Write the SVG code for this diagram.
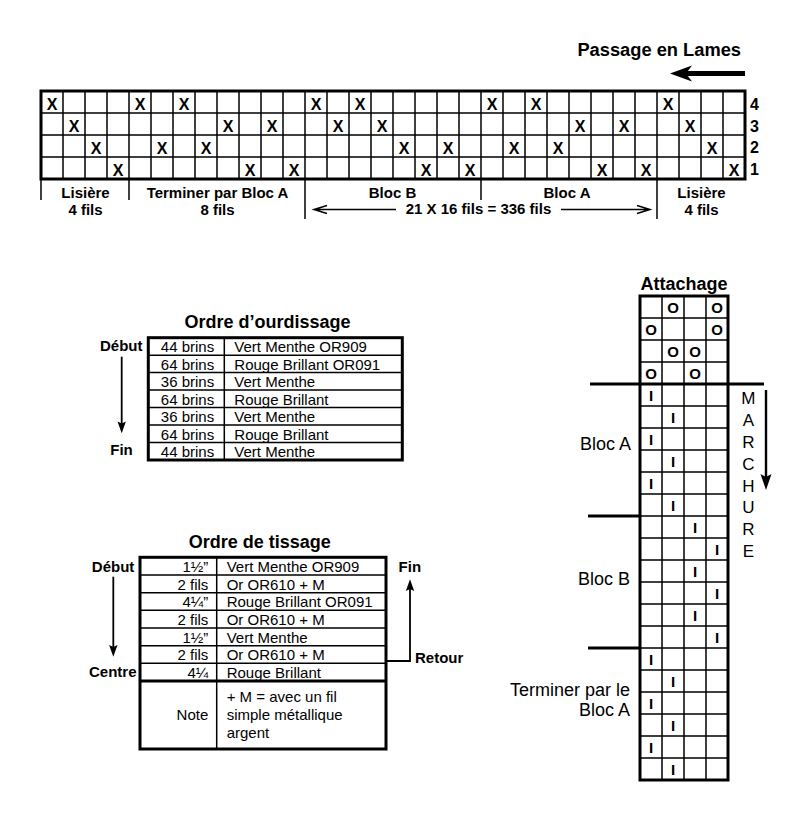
<svg xmlns="http://www.w3.org/2000/svg" width="800" height="822" viewBox="0 0 800 822">
<defs>
<style>
.t{font-family:"Liberation Sans",Arial,Helvetica,sans-serif;fill:#000}
.b{font-weight:bold}
.x{font-family:"Liberation Sans",Arial,sans-serif;font-weight:bold;font-size:16px;text-anchor:middle}
.o{font-family:"Liberation Sans",Arial,sans-serif;font-weight:bold;font-size:15px;text-anchor:middle}
.i{font-family:"Liberation Sans",Arial,sans-serif;font-weight:bold;font-size:15px;text-anchor:middle}
.lab{font-size:15px;font-weight:bold;text-anchor:middle}
.cell{font-size:15px}
.outer{fill:none;stroke:#000;stroke-width:3}
.inner{fill:none;stroke:#000;stroke-width:1.5}
.thick{fill:none;stroke:#000;stroke-width:3}
.thin{fill:none;stroke:#000;stroke-width:1.5}
.ah{fill:#000;stroke:none}
</style>
</defs>
<rect width="800" height="822" fill="#fff"/>

<g id="passage-title">
<text class="t b" x="741" y="56" font-size="18.3" text-anchor="end">Passage en Lames</text>
</g>

<g id="threading">
<path class="inner" d="M63 91V179M85 91V179M107 91V179M129 91V179M151 91V179M173 91V179M195 91V179M217 91V179M239 91V179M261 91V179M283 91V179M305 91V179M327 91V179M349 91V179M371 91V179M393 91V179M415 91V179M437 91V179M459 91V179M481 91V179M503 91V179M525 91V179M547 91V179M569 91V179M591 91V179M613 91V179M635 91V179M657 91V179M679 91V179M701 91V179M723 91V179M41 113H745M41 135H745M41 157H745"/>
<rect class="outer" x="41" y="91" width="704" height="88"/>
<text class="x" x="52" y="110">X</text><text class="x" x="140" y="110">X</text><text class="x" x="184" y="110">X</text><text class="x" x="316" y="110">X</text><text class="x" x="360" y="110">X</text><text class="x" x="492" y="110">X</text><text class="x" x="536" y="110">X</text><text class="x" x="668" y="110">X</text>
<text class="x" x="74" y="132">X</text><text class="x" x="228" y="132">X</text><text class="x" x="272" y="132">X</text><text class="x" x="338" y="132">X</text><text class="x" x="382" y="132">X</text><text class="x" x="580" y="132">X</text><text class="x" x="624" y="132">X</text><text class="x" x="690" y="132">X</text>
<text class="x" x="96" y="154">X</text><text class="x" x="162" y="154">X</text><text class="x" x="206" y="154">X</text><text class="x" x="404" y="154">X</text><text class="x" x="448" y="154">X</text><text class="x" x="514" y="154">X</text><text class="x" x="558" y="154">X</text><text class="x" x="712" y="154">X</text>
<text class="x" x="118" y="176">X</text><text class="x" x="250" y="176">X</text><text class="x" x="294" y="176">X</text><text class="x" x="426" y="176">X</text><text class="x" x="470" y="176">X</text><text class="x" x="602" y="176">X</text><text class="x" x="646" y="176">X</text><text class="x" x="734" y="176">X</text>
<text class="t b" x="750" y="110" font-size="16">4</text>
<text class="t b" x="750" y="131.5" font-size="16">3</text>
<text class="t b" x="750" y="153" font-size="16">2</text>
<text class="t b" x="750" y="174.5" font-size="16">1</text>
</g>

<g id="threading-sections">
<path class="thin" d="M41 179V200M129 179V200M305 179V219M481 179V200M657 179V219"/>
<text class="t lab" x="85.5" y="197.5">Lisière</text>
<text class="t lab" x="85.5" y="215">4 fils</text>
<text class="t lab" x="217.5" y="197.5">Terminer par Bloc A</text>
<text class="t lab" x="217.5" y="215">8 fils</text>
<text class="t lab" x="392.5" y="197.5">Bloc B</text>
<text class="t lab" x="567" y="197.5">Bloc A</text>
<text class="t lab" x="701.5" y="197.5">Lisière</text>
<text class="t lab" x="701.5" y="215">4 fils</text>
<text class="t lab" x="478.5" y="214" font-size="15.5">21 X 16 fils = 336 fils</text>
</g>

<g id="ourdissage">
<text class="t b" x="267.5" y="327.7" font-size="18" text-anchor="middle">Ordre d’ourdissage</text>
<path class="inner" d="M224.3 337.7V460M148.3 355.2H402.3M148.3 372.6H402.3M148.3 390.1H402.3M148.3 407.6H402.3M148.3 425.1H402.3M148.3 442.5H402.3"/>
<rect class="outer" x="148.3" y="337.7" width="254" height="122.3"/>
<g class="t cell">
<text x="187.5" y="352.4" text-anchor="middle">44 brins</text><text x="234.3" y="352.4">Vert Menthe OR909</text>
<text x="187.5" y="369.9" text-anchor="middle">64 brins</text><text x="234.3" y="369.9">Rouge Brillant OR091</text>
<text x="187.5" y="387.3" text-anchor="middle">36 brins</text><text x="234.3" y="387.3">Vert Menthe</text>
<text x="187.5" y="404.8" text-anchor="middle">64 brins</text><text x="234.3" y="404.8">Rouge Brillant</text>
<text x="187.5" y="422.3" text-anchor="middle">36 brins</text><text x="234.3" y="422.3">Vert Menthe</text>
<text x="187.5" y="439.8" text-anchor="middle">64 brins</text><text x="234.3" y="439.8">Rouge Brillant</text>
<text x="187.5" y="456.5" text-anchor="middle">44 brins</text><text x="234.3" y="456.5">Vert Menthe</text>
</g>
<text class="t b" x="142.5" y="350.7" font-size="15" text-anchor="end">Début</text>
<text class="t b" x="121.5" y="455" font-size="15" text-anchor="middle">Fin</text>
</g>

<g id="tissage">
<text class="t b" x="259.7" y="548.3" font-size="18" text-anchor="middle">Ordre de tissage</text>
<path class="inner" d="M216.7 557.3V749M140 575H386M140 592.7H386M140 610.3H386M140 628H386M140 645.7H386M140 663.3H386"/>
<path class="thick" d="M140 681H386"/>
<rect class="outer" x="140" y="557.3" width="246" height="191.7"/>
<g class="t cell">
<text x="208.3" y="572" text-anchor="end">1½”</text><text x="226.7" y="572">Vert Menthe OR909</text>
<text x="208.3" y="589.7" text-anchor="end">2 fils</text><text x="226.7" y="589.7">Or OR610 + M</text>
<text x="208.3" y="607.4" text-anchor="end">4¼”</text><text x="226.7" y="607.4">Rouge Brillant OR091</text>
<text x="208.3" y="625" text-anchor="end">2 fils</text><text x="226.7" y="625">Or OR610 + M</text>
<text x="208.3" y="642.7" text-anchor="end">1½”</text><text x="226.7" y="642.7">Vert Menthe</text>
<text x="208.3" y="660.4" text-anchor="end">2 fils</text><text x="226.7" y="660.4">Or OR610 + M</text>
<text x="208.3" y="677.5" text-anchor="end">4¼</text><text x="226.7" y="677.5">Rouge Brillant</text>
<text x="208.3" y="720" text-anchor="end">Note</text>
<text x="226.7" y="702">+ M = avec un fil</text>
<text x="226.7" y="720">simple métallique</text>
<text x="226.7" y="738">argent</text>
</g>
<text class="t b" x="134.3" y="572" font-size="15" text-anchor="end">Début</text>
<text class="t b" x="112.8" y="676.7" font-size="15" text-anchor="middle">Centre</text>
<text class="t b" x="409.8" y="571.7" font-size="15" text-anchor="middle">Fin</text>
<text class="t b" x="415" y="663" font-size="15">Retour</text>
</g>

<g id="attachage">
<text class="t b" x="684" y="290" font-size="18" text-anchor="middle">Attachage</text>
<path class="inner" d="M662 296V780M684 296V780M706 296V780M640 318H728M640 340H728M640 362H728M640 406H728M640 428H728M640 450H728M640 472H728M640 494H728M640 516H728M640 538H728M640 560H728M640 582H728M640 604H728M640 626H728M640 648H728M640 670H728M640 692H728M640 714H728M640 736H728M640 758H728"/>
<rect class="outer" x="640" y="296" width="88" height="484"/>
<path class="thick" d="M590 384H764M588 516H640M588 648H640"/>
<text class="o" x="673" y="312.5">O</text><text class="o" x="717" y="312.5">O</text>
<text class="o" x="651" y="334.5">O</text><text class="o" x="717" y="334.5">O</text>
<text class="o" x="673" y="356.5">O</text><text class="o" x="695" y="356.5">O</text>
<text class="o" x="651" y="378.5">O</text><text class="o" x="695" y="378.5">O</text>
<text class="i" x="651" y="401">I</text><text class="i" x="673" y="423">I</text><text class="i" x="651" y="445">I</text><text class="i" x="673" y="467">I</text><text class="i" x="651" y="489">I</text><text class="i" x="673" y="511">I</text>
<text class="i" x="695" y="533">I</text><text class="i" x="717" y="555">I</text><text class="i" x="695" y="577">I</text><text class="i" x="717" y="599">I</text><text class="i" x="695" y="621">I</text><text class="i" x="717" y="643">I</text>
<text class="i" x="651" y="665">I</text><text class="i" x="673" y="687">I</text><text class="i" x="651" y="709">I</text><text class="i" x="673" y="731">I</text><text class="i" x="651" y="753">I</text><text class="i" x="673" y="775">I</text>
<g class="t" font-size="18" text-anchor="end">
<text x="631" y="450">Bloc A</text>
<text x="630" y="585">Bloc B</text>
<text x="630" y="696">Terminer par le</text>
<text x="630" y="716">Bloc A</text>
</g>
<g class="t" font-size="17" text-anchor="middle">
<text x="748.3" y="404">M</text>
<text x="748.3" y="426">A</text>
<text x="748.3" y="447.5">R</text>
<text x="748.3" y="469.5">C</text>
<text x="748.3" y="491.5">H</text>
<text x="748.3" y="513">U</text>
<text x="748.3" y="534.5">R</text>
<text x="748.3" y="556.5">E</text>
</g>
</g>

<g id="connectors">
<path d="M686 73.5H745" stroke="#000" stroke-width="5" fill="none"/>
<path class="ah" d="M670 73.5L692 65.5L686 73.5L692 81.5Z"/>
<path class="thin" d="M314 209.5H396M327 205.5L314 209.5L327 213.5"/>
<path class="thin" d="M561 209.5H650M637 205.5L650 209.5L637 213.5"/>
<path d="M121.7 356.7V426" stroke="#000" stroke-width="1.8" fill="none"/>
<path class="ah" d="M121.7 433.3L117.5 421.5L121.7 423.5L125.9 421.5Z"/>
<path d="M113.3 576.7V649" stroke="#000" stroke-width="1.8" fill="none"/>
<path class="ah" d="M113.3 656.7L109.1 644.9L113.3 646.9L117.5 644.9Z"/>
<path d="M386 661H410V587" stroke="#000" stroke-width="1.8" fill="none"/>
<path class="ah" d="M410 579.3L405.8 591.1L410 589.1L414.2 591.1Z"/>
<path d="M766 390V480" stroke="#000" stroke-width="2.4" fill="none"/>
<path class="ah" d="M766 490L760.5 474L766 477L771.5 474Z"/>
</g>
</svg>
